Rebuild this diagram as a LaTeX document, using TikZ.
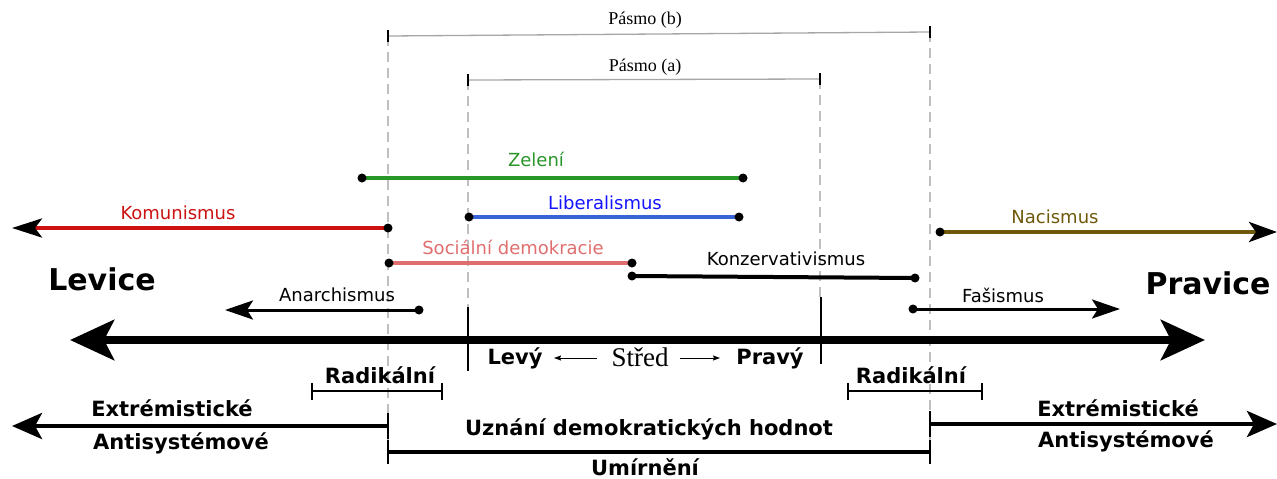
\documentclass[tikz,border=0pt]{standalone}
\usepackage{fontspec}
\newfontfamily\dv{DejaVu Sans}
\newfontfamily\tms{Liberation Serif}
\usetikzlibrary{arrows.meta}
\definecolor{komred}{RGB}{204,17,17}
\definecolor{zelgreen}{RGB}{40,150,40}
\definecolor{libtext}{RGB}{20,20,255}
\definecolor{libline}{RGB}{55,100,215}
\definecolor{socred}{RGB}{225,110,110}
\definecolor{nacbrown}{RGB}{110,88,10}
\begin{document}
\begin{tikzpicture}[x=1pt,y=-1pt,
  dotn/.style={circle,fill=black,inner sep=0pt,minimum size=9pt},
  lbl/.style={font=\dv\fontsize{18}{20}\selectfont,inner sep=0pt},
  blbl/.style={font=\dv\bfseries\fontsize{21}{24}\selectfont,inner sep=0pt},
  big/.style={font=\dv\bfseries\fontsize{30}{34}\selectfont,inner sep=0pt},
  serif/.style={font=\tms\fontsize{18}{20}\selectfont,inner sep=0pt},
  guide/.style={draw=black!25,dash pattern=on 10pt off 6pt,line width=1.3pt},
  pasmo/.style={draw=black!35,line width=1.3pt},
  tickm/.style={draw=black,line width=1.3pt},
  ideo/.style={line width=4pt},
  thin/.style={line width=3pt},
  headS/.style={-{Stealth[length=28pt,width=19pt,inset=6pt]}},
  headM/.style={-{Stealth[length=30pt,width=26pt,inset=7pt]}},
  bar/.style={line width=4.5pt},
  brk/.style={line width=2pt}]
\useasboundingbox (0,0) rectangle (1277,479);

% guides
\draw[guide] (388,36) -- (388,462);
\draw[guide] (930,32) -- (930,462);
\draw[guide] (468,80) -- (468,307);
\draw[guide] (820,79) -- (820,297);

% Pasmo b
\coordinate (pbL) at (388,36);
\coordinate (pbR) at (930,32);
\draw[pasmo] (pbL) -- (pbR);
\draw[tickm] (388,30) -- (388,42);
\draw[tickm] (930,26) -- (930,38);
\node[serif] (pb) at (645,20) {Pásmo (b)};
% Pasmo a
\coordinate (paL) at (468,80);
\coordinate (paR) at (820,79);
\draw[pasmo] (paL) -- (paR);
\draw[tickm] (468,74) -- (468,86);
\draw[tickm] (820,73) -- (820,85);
\node[serif] (pa) at (645,67) {Pásmo (a)};

% coordinates of ideology segments
\coordinate (zL) at (362,178);
\coordinate (zR) at (743,178);
\coordinate (lL) at (469,217);
\coordinate (lR) at (739,217);
\coordinate (kS) at (388,228);
\coordinate (kE) at (12,228);
\coordinate (sL) at (389,263);
\coordinate (sR) at (632,263);
\coordinate (cL) at (632,276);
\coordinate (cR) at (915,278);
\coordinate (nS) at (940,232);
\coordinate (nE) at (1277,232);
\coordinate (aS) at (419,310);
\coordinate (aE) at (225,310);
\coordinate (fS) at (913,309);
\coordinate (fE) at (1120,309);

\draw[ideo,zelgreen] (zL) -- (zR);
\draw[ideo,libline] (lL) -- (lR);
\draw[ideo,komred,arrows={-{Stealth[length=30pt,width=19pt,inset=7pt,color=black]}}] (kS) -- (kE);
\draw[ideo,socred] (sL) -- (sR);
\draw[ideo] (cL) -- (cR);
\draw[ideo,nacbrown,arrows={-{Stealth[length=28pt,width=20pt,inset=7pt,color=black]}}] (nS) -- (nE);
\draw[thin,headS] (aS) -- (aE);
\draw[thin,headS] (fS) -- (fE);

\foreach \p in {zL,zR,lL,lR,kS,sL,sR,cL,cR,nS,aS,fS} {\node[dotn] (dot\p) at (\p) {};}

\node[lbl,text=zelgreen] (zt) at (536,159) {Zelení};
\node[lbl,text=libtext] (lt) at (605,203) {Liberalismus};
\node[lbl,text=komred] (kt) at (178,213) {Komunismus};
\node[lbl,text=socred] (st) at (513,247) {Sociální demokracie};
\node[lbl] (ct) at (786,259) {Konzervativismus};
\node[lbl,text=nacbrown] (nt) at (1055,217) {Nacismus};
\node[lbl] (at) at (337,295) {Anarchismus};
\node[lbl] (ft) at (1003,295) {Fašismus};

% main axis
\coordinate (axL) at (70,340);
\coordinate (axR) at (1205,340);
\draw[line width=8pt,{Stealth[length=44pt,width=40pt,inset=10pt]}-{Stealth[length=44pt,width=40pt,inset=10pt]}] (axL) -- (axR);
\node[big] (lev) at (102,279) {Levice};
\node[big] (prav) at (1208,283) {Pravice};

% centre
\draw[tickm] (468,307) -- (468,371);
\draw[tickm] (821,297) -- (821,364);
\node[blbl] (levy) at (515,358) {Levý};
\node[font=\tms\fontsize{27}{29}\selectfont,inner sep=0pt] (stred) at (640,357) {Střed};
\node[blbl] (pravy) at (770,358) {Pravý};
\draw[line width=1pt,-{Stealth[length=7pt,width=5pt,inset=1pt]}] (597,358) -- (554,358);
\draw[line width=1pt,-{Stealth[length=7pt,width=5pt,inset=1pt]}] (680,358) -- (720,358);

% Radikalni
\node[blbl] (rl) at (380,375) {Radikální};
\draw[brk] (312,391) -- (442,391);
\draw[brk] (312,383) -- (312,400);
\draw[brk] (442,383) -- (442,400);
\node[blbl] (rr) at (911,375) {Radikální};
\draw[brk] (848,391) -- (982,391);
\draw[brk] (848,383) -- (848,400);
\draw[brk] (982,383) -- (982,400);

% Extremisticke
\coordinate (eLS) at (388,426);
\coordinate (eLE) at (12,426);
\draw[bar,headM] (eLS) -- (eLE);
\draw[brk] (388,413) -- (388,439);
\coordinate (eRS) at (930,424);
\coordinate (eRE) at (1277,424);
\draw[bar,headM] (eRS) -- (eRE);
\draw[brk] (930,411) -- (930,437);
\node[blbl] (el) at (172,408) {Extrémistické};
\node[blbl] (al) at (181,443) {Antisystémové};
\node[blbl] (er) at (1118,408) {Extrémistické};
\node[blbl] (ar) at (1126,441) {Antisystémové};

% Umirneni
\coordinate (uL) at (388,452);
\coordinate (uR) at (930,452);
\draw[bar] (uL) -- (uR);
\draw[brk] (388,440) -- (388,464);
\draw[brk] (930,440) -- (930,464);
\node[blbl] (uz) at (649,429) {Uznání demokratických hodnot};
\node[blbl] (um) at (645,467) {Umírnění};
\end{tikzpicture}
\end{document}
